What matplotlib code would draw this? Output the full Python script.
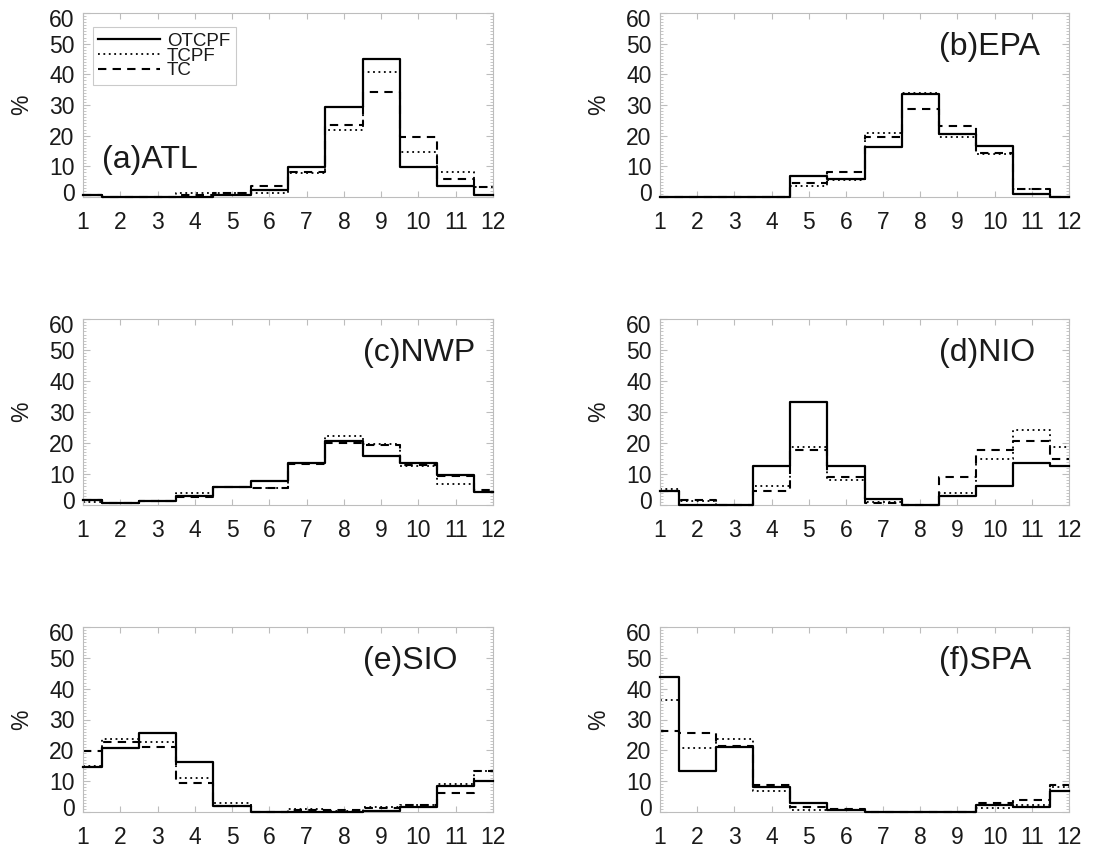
import matplotlib.pyplot as plt
import numpy as np
from matplotlib.ticker import MultipleLocator
from matplotlib.transforms import ScaledTranslation

plt.rcParams['font.family'] = ['Liberation Sans', 'DejaVu Sans']

months = np.arange(1, 13)

# monthly frequency (%) for each basin: OTCPF, TCPF, TC
atl_otcpf = [0.5, 0, 0, 0, 0.5, 2.3, 9.9, 29.2, 45.0, 9.7, 3.7, 0.7]
atl_tcpf = [0.5, 0, 0, 1.4, 1.4, 1.2, 7.9, 21.8, 40.8, 14.6, 8.3, 3.2]
atl_tc = [0.5, 0, 0, 0.6, 1.2, 3.6, 8.3, 23.4, 34.1, 19.6, 5.9, 3.4]

epa_otcpf = [0, 0, 0, 0, 7.0, 5.8, 16.4, 33.5, 20.4, 16.6, 1.0, 0]
epa_tcpf = [0, 0, 0, 0, 3.6, 5.5, 20.8, 34.0, 19.7, 14.0, 2.6, 0]
epa_tc = [0, 0, 0, 0, 4.7, 8.3, 19.7, 28.8, 23.3, 14.5, 2.5, 0]

nwp_otcpf = [1.6, 0.8, 1.3, 3.0, 5.9, 7.8, 13.5, 20.8, 15.9, 13.5, 9.6, 4.1]
nwp_tcpf = [1.1, 0.5, 1.3, 4.0, 5.9, 5.6, 13.7, 22.2, 19.7, 12.6, 6.7, 4.3]
nwp_tc = [1.5, 0.5, 1.3, 2.7, 5.8, 5.6, 13.2, 20.0, 19.5, 13.0, 9.4, 4.8]

nio_otcpf = [4.6, 0, 0, 12.7, 33.1, 12.7, 1.8, 0, 3.0, 6.2, 13.4, 12.7]
nio_tcpf = [5.1, 1.3, 0, 6.1, 18.8, 8.1, 0.9, 0, 3.8, 14.8, 24.2, 18.8]
nio_tc = [4.6, 1.6, 0, 4.5, 17.7, 8.9, 0.5, 0, 8.9, 17.7, 20.8, 14.7]

sio_otcpf = [14.5, 20.9, 25.5, 16.3, 1.9, 0, 0, 0, 0.4, 1.7, 8.5, 10.1]
sio_tcpf = [15.0, 23.7, 22.6, 10.9, 2.8, 0, 1.1, 0.4, 1.5, 2.3, 9.0, 13.3]
sio_tc = [19.9, 22.8, 21.2, 9.5, 1.9, 0, 0.6, 0.6, 1.2, 2.3, 6.1, 13.3]

spa_otcpf = [43.9, 13.4, 21.0, 8.2, 2.8, 0.6, 0, 0, 0, 2.2, 1.7, 6.9]
spa_tcpf = [36.3, 20.6, 23.6, 6.8, 0.6, 0.6, 0, 0, 0, 1.2, 2.3, 8.0]
spa_tc = [26.3, 25.5, 21.4, 8.8, 1.5, 0.9, 0, 0, 0, 3.0, 3.9, 8.8]

panels = [
    ('(a)ATL', atl_otcpf, atl_tcpf, atl_tc),
    ('(b)EPA', epa_otcpf, epa_tcpf, epa_tc),
    ('(c)NWP', nwp_otcpf, nwp_tcpf, nwp_tc),
    ('(d)NIO', nio_otcpf, nio_tcpf, nio_tc),
    ('(e)SIO', sio_otcpf, sio_tcpf, sio_tc),
    ('(f)SPA', spa_otcpf, spa_tcpf, spa_tc),
]

W, H = 1096, 851
fig = plt.figure(figsize=(W / 100, H / 100), dpi=100)

# axes boxes in pixels: (left, right) per column, (top, bottom) per row
col_x = [(83, 493), (660, 1069)]
row_y = [(13, 197), (319, 505), (627, 812)]

frame = '#bdbdbd'
ink = '#1a1a1a'

for i, (name, otcpf, tcpf, tc) in enumerate(panels):
    x0, x1 = col_x[i % 2]
    y0, y1 = row_y[i // 2]
    ax = fig.add_axes([x0 / W, 1 - y1 / H, (x1 - x0) / W, (y1 - y0) / H])

    ax.step(months, otcpf, where='mid', color='black', lw=1.6,
            label='OTCPF', clip_on=False, zorder=3)
    ax.step(months, tcpf, where='mid', color='black', lw=1.3,
            linestyle=(0, (1, 2)), label='TCPF', clip_on=False, zorder=2)
    ax.step(months, tc, where='mid', color='black', lw=1.5,
            linestyle=(0, (4, 3)), label='TC', clip_on=False, zorder=2)

    ax.set_xlim(1, 12)
    ax.set_ylim(0, 60)
    ax.set_xticks(months)
    ax.set_yticks(np.arange(0, 61, 10))
    ax.yaxis.set_minor_locator(MultipleLocator(1))

    for s in ax.spines.values():
        s.set_color(frame)
        s.set_linewidth(0.8)
    ax.tick_params(axis='both', which='both', direction='in', color=frame,
                   top=True, right=True, labelcolor=ink, labelsize=16.5)
    ax.tick_params(axis='x', which='major', length=4, pad=10)
    ax.tick_params(axis='y', which='major', length=5, pad=6)
    ax.tick_params(axis='y', which='minor', length=2)

    # nudge the end labels inside the frame
    labs = ax.get_yticklabels()
    labs[0].set_transform(labs[0].get_transform() +
                          ScaledTranslation(0, 5 / 100, fig.dpi_scale_trans))
    labs[-1].set_transform(labs[-1].get_transform() +
                           ScaledTranslation(0, -5 / 100, fig.dpi_scale_trans))

    ax.set_ylabel('%', fontsize=16.5, color=ink)
    ax.yaxis.set_label_coords(-0.122, 0.5)

    if i == 0:
        ax.text(1.5, 12, name, fontsize=23, color=ink, ha='left', va='center')
        leg = ax.legend(loc='upper left', bbox_to_anchor=(0.024, 0.924),
                        fontsize=13.5, handlelength=3.3, labelspacing=-0.12,
                        borderpad=0.3, handletextpad=0.35, borderaxespad=0,
                        fancybox=False, frameon=True)
        leg.get_frame().set_edgecolor(frame)
        leg.get_frame().set_linewidth(0.8)
        for t in leg.get_texts():
            t.set_color(ink)
    else:
        ax.text(8.5, 49, name, fontsize=23, color=ink, ha='left', va='center')

fig.savefig('out.png', dpi=100)
